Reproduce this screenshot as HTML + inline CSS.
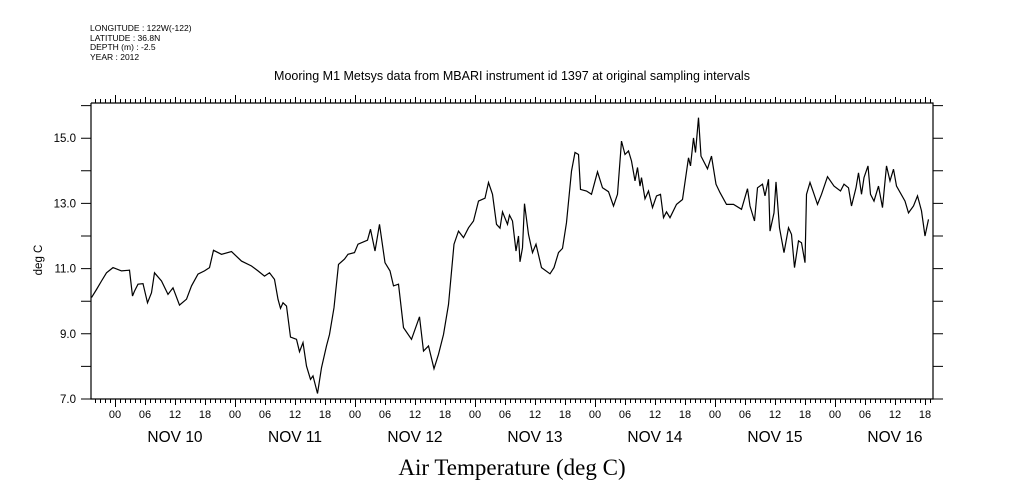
<!DOCTYPE html>
<html><head><meta charset="utf-8"><style>
body{margin:0;background:#fff;}
svg{display:block;font-family:"Liberation Sans",sans-serif;}
</style></head><body>
<svg id="chart" width="1009" height="504" viewBox="0 0 1009 504">
<rect width="1009" height="504" fill="#fff"/>
<g font-size="8.5" fill="#000">
<text x="90" y="31">LONGITUDE : 122W(-122)</text>
<text x="90" y="41">LATITUDE : 36.8N</text>
<text x="90" y="50">DEPTH (m) : -2.5</text>
<text x="90" y="60">YEAR : 2012</text>
</g>
<text x="512" y="80" font-size="12.5" text-anchor="middle">Mooring M1 Metsys data from MBARI instrument id 1397 at original sampling intervals</text>
<text x="0" y="0" font-size="11.5" text-anchor="middle" transform="translate(42,260) rotate(-90)">deg C</text>
<text x="512" y="475" font-size="23" text-anchor="middle" font-family="Liberation Serif, serif">Air Temperature (deg C)</text>
<g id="axes"></g>
<g id="series"></g>
</svg>
<script>
const hours=[-4.7,-3.7,-2.7,-1.7,-0.4,1.3,2.9,3.5,3.9,4.6,5.6,6.5,7.3,7.9,9.3,10.6,11.6,12.9,14.3,15.3,16.6,17.9,18.9,19.7,21.3,23.3,25.3,27.3,28.6,29.9,30.9,31.9,32.6,33.1,33.6,34.3,35.1,36.3,36.9,37.6,38.3,39.1,39.6,40.5,41.3,42.3,42.9,43.8,44.7,45.9,46.6,47.9,48.6,50.5,51.1,52,52.9,54,55,55.7,56.7,57.7,59.3,60.9,61.7,62.7,63.8,64.7,65.7,66.7,67.8,68.7,69.7,70.7,71.7,72.7,74,74.7,75.5,76.3,77,77.5,78.5,78.9,79.5,80.2,80.7,81,81.5,81.9,82.7,83.5,84.2,85.3,87,87.8,88.7,89.5,90.3,91.3,92,92.7,93.1,94.3,95.3,96.5,97.5,98.7,99.7,100.5,101.3,102,102.7,103.3,104,104.5,105,105.3,106,106.7,107.5,108.3,109.1,109.7,110.3,111,112.3,113.5,114.7,115.1,115.7,116.1,116.7,117.2,118.5,119.3,120.2,121,122.3,123.7,125.3,126.5,127,127.9,128.5,129.5,130,130.7,131,131.8,132.2,132.9,133.8,134.7,135.3,135.9,136.7,137.3,138,138.3,139,139.7,140.5,141.3,142.5,143.8,145.1,145.8,146.7,147.3,148.2,148.7,149.3,149.8,150.6,151.1,151.8,152.7,153.5,154.3,155,155.7,156.3,158,158.7,159.7,160.5,161.3,162,162.7];
const temps=[10.11,10.36,10.62,10.87,11.03,10.93,10.95,10.16,10.31,10.52,10.54,9.95,10.26,10.87,10.62,10.21,10.41,9.88,10.06,10.47,10.83,10.93,11.03,11.56,11.44,11.52,11.23,11.08,10.93,10.77,10.87,10.67,10.06,9.78,9.95,9.85,8.90,8.83,8.45,8.73,8.01,7.60,7.71,7.17,7.96,8.63,8.98,9.80,11.13,11.29,11.44,11.49,11.75,11.87,12.21,11.54,12.36,11.18,10.93,10.47,10.52,9.19,8.83,9.52,8.47,8.63,7.93,8.37,8.98,9.90,11.75,12.15,11.95,12.25,12.46,13.07,13.16,13.64,13.28,12.36,12.24,12.74,12.36,12.64,12.46,11.54,12.00,11.21,11.64,12.99,12.05,11.49,11.75,11.03,10.84,11.03,11.49,11.62,12.41,13.99,14.56,14.50,13.43,13.38,13.28,13.97,13.48,13.36,12.92,13.28,14.91,14.50,14.61,14.30,13.69,14.10,13.53,13.79,13.14,13.38,12.87,13.23,13.28,12.56,12.74,12.56,12.97,13.12,14.40,14.15,15.01,14.56,15.63,14.45,14.06,14.45,13.59,13.33,12.97,12.97,12.82,13.45,12.92,12.46,13.48,13.59,13.23,13.74,12.15,12.71,13.66,12.25,11.49,12.25,12.05,11.03,11.85,11.79,11.18,13.28,13.64,13.33,12.97,13.28,13.82,13.53,13.38,13.59,13.48,12.92,13.48,13.94,13.28,13.79,14.15,13.28,13.07,13.53,12.87,14.15,13.69,14.05,13.53,13.07,12.71,12.92,13.23,12.77,12.00,12.51];
const yTicks=[7,8,9,10,11,12,13,14,15,16];
const yLabels=["7.0","9.0","11.0","13.0","15.0"];
const hourLabels=["00","06","12","18"];
const dayLabels=["NOV 10","NOV 11","NOV 12","NOV 13","NOV 14","NOV 15","NOV 16"];
const X0=91,X1=933,Y0=103,Y1=399;
const xOf=h=>115+h*5;
const yOf=t=>399-(t-7)*32.6;
const NS="http://www.w3.org/2000/svg";
function mk(tag,attrs,parent){const e=document.createElementNS(NS,tag);for(const k in attrs)e.setAttribute(k,attrs[k]);parent.appendChild(e);return e;}
const axes=document.getElementById('axes');
let frame=mk('path',{d:`M${X0},${Y0}V${Y1}H${X1}V${Y0}H${X0}`,fill:'none',stroke:'#000','stroke-width':1.2},axes);


let tk='';
for(let h=-4;xOf(h)<=X1;h++){const x=xOf(h)+0.5;const major=((h%6)+6)%6===0;const len=(h%24===0)?8:(major?6:4);tk+=`M${x},${Y1}v${len}M${x},${Y0}v${-len}`;}
for(const t of yTicks){const y=yOf(t);tk+=`M${X0},${y}h-10M${X1},${y}h10`;}
let ticks=mk('path',{d:tk,stroke:'#000','stroke-width':1,fill:'none'},axes);


for(const l of yLabels){const t=mk('text',{x:76,y:yOf(parseFloat(l))+4,'font-size':11.5,'text-anchor':'end'},axes);t.textContent=l;

}
for(let d=0;d<7;d++){for(let i=0;i<4;i++){const x=xOf(d*24+i*6);if(x>X1)continue;const t=mk('text',{x:x,y:418,'font-size':11,'text-anchor':'middle'},axes);t.textContent=hourLabels[i];

}
const t=mk('text',{x:xOf(d*24+12),y:442,'font-size':15.5,'text-anchor':'middle'},axes);t.textContent=dayLabels[d];

}
const pts=hours.map((h,i)=>xOf(h).toFixed(1)+','+yOf(temps[i]).toFixed(1)).join(' ');
const line=mk('polyline',{points:pts,fill:'none',stroke:'#000','stroke-width':1.2},document.getElementById('series'));


</script>
</body></html>
